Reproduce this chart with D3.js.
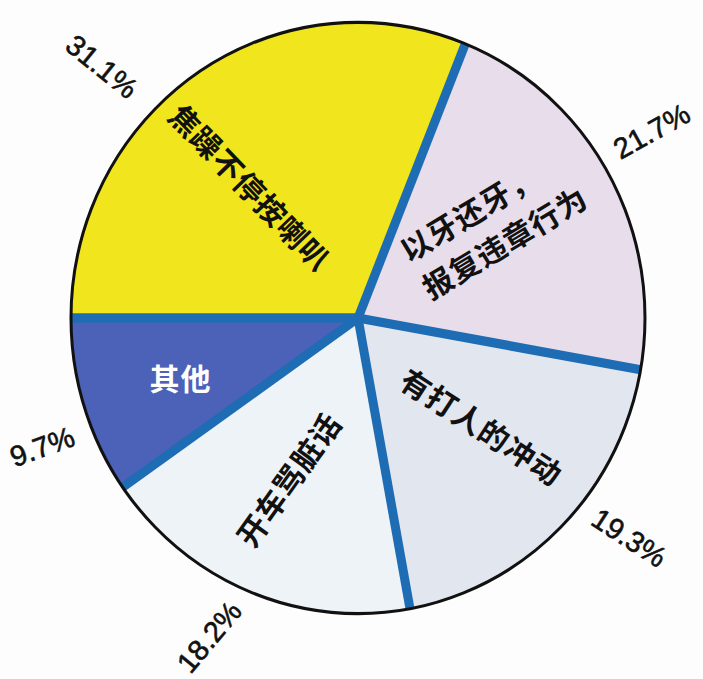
<!DOCTYPE html>
<html>
<head>
<meta charset="utf-8">
<script src="https://cdn.jsdelivr.net/npm/d3@7"></script>
<style>
  html, body { margin: 0; padding: 0; background: #fdfdfd; }
  svg { display: block; }
</style>
</head>
<body>
<svg id="chart" width="703" height="679"></svg>
<script>
const categories = ["焦躁不停按喇叭", "以牙还牙，|报复违章行为", "有打人的冲动", "开车骂脏话", "其他"];
const shares = [31.1, 21.7, 19.3, 18.2, 9.7];
const sliceColors = ["#f1e51d", "#e7ddeb", "#e2e6ee", "#edf3f6", "#4b62b8"];
const nameColors = ["#111", "#111", "#111", "#111", "#fff"];

// label placement: angle nudge (deg) from slice middle, radius, text rotation
const nameNudge = [-6, -5.4, -3, 0.5, -1.7];
const nameRadius = [169, 165, 165, 176, 188];
const nameRotate = [46, -31, 33, -54.5, 0];
const valueNudge = [-11.5, -3.5, -5.8, 2.7, -4.7];
const valueRadius = [359, 348, 349, 352, 341];
const valueRotate = [39, -29, 33, -50, -20];

const cx = 358, cy = 318, R = 287, yStretch = 1.03;

const svg = d3.select('#chart');
const g = svg.append('g').attr('transform', `translate(${cx},${cy})`);
const pieG = g.append('g').attr('transform', `scale(1,${yStretch})`);

const pie = d3.pie().sort(null).startAngle(-Math.PI / 2).endAngle(1.5 * Math.PI);
const arcs = pie(shares);
const arc = d3.arc().innerRadius(0).outerRadius(R);

pieG.selectAll('path.slice')
    .data(arcs)
    .join('path')
    .attr('class', 'slice')
    .attr('d', arc)
    .attr('fill', (d, i) => sliceColors[i]);

// blue spokes between slices
const spoke = d3.lineRadial().angle(d => d[0]).radius(d => d[1]);
pieG.selectAll('path.spoke')
    .data(arcs)
    .join('path')
    .attr('class', 'spoke')
    .attr('d', d => spoke([[d.startAngle, 0], [d.startAngle, R]]))
    .attr('fill', 'none')
    .attr('stroke', '#1e6cb4')
    .attr('stroke-width', 9);

pieG.append('circle')
    .attr('r', R)
    .attr('fill', 'none')
    .attr('stroke', '#111')
    .attr('stroke-width', 3);

function polar(d, nudge, r) {
    const a = (d.startAngle + d.endAngle) / 2 + nudge * Math.PI / 180;
    return d3.arc().innerRadius(r).outerRadius(r).centroid({ startAngle: a, endAngle: a });
}

// category names inside the slices
const names = g.selectAll('text.name')
    .data(arcs)
    .join('text')
    .attr('class', 'name')
    .attr('transform', (d, i) => {
        const [x, y] = polar(d, nameNudge[i], nameRadius[i]);
        return `translate(${x},${y}) rotate(${nameRotate[i]})`;
    })
    .attr('font-family', '"Noto Sans CJK SC", sans-serif')
    .attr('font-weight', 700)
    .attr('font-size', 30)
    .attr('letter-spacing', 1)
    .attr('fill', (d, i) => nameColors[i])
    .attr('text-anchor', 'start');

names.each(function (d, i) {
    const lines = categories[i].split('|');
    const t = d3.select(this);
    const spans = lines.map((s, k) => t.append('tspan')
        .attr('dy', k === 0 ? `${0.35 - (lines.length - 1) * 0.72}em` : '1.44em')
        .text(s));
    const maxW = d3.max(spans, s => s.node().getComputedTextLength());
    spans.forEach(s => s.attr('x', -maxW / 2));
});

// percentage labels outside
const fmt = d => d3.format('.1f')(d) + '%';
g.selectAll('text.value')
    .data(arcs)
    .join('text')
    .attr('class', 'value')
    .attr('transform', (d, i) => {
        const [x, y] = polar(d, valueNudge[i], valueRadius[i]);
        return `translate(${x},${y}) rotate(${valueRotate[i]})`;
    })
    .attr('dy', '0.35em')
    .attr('text-anchor', 'middle')
    .attr('font-family', '"Liberation Sans", Arial, sans-serif')
    .attr('font-size', 29)
    .attr('fill', '#111')
    .attr('stroke', '#111')
    .attr('stroke-width', 0.6)
    .text(d => fmt(d.data));
</script>
</body>
</html>
